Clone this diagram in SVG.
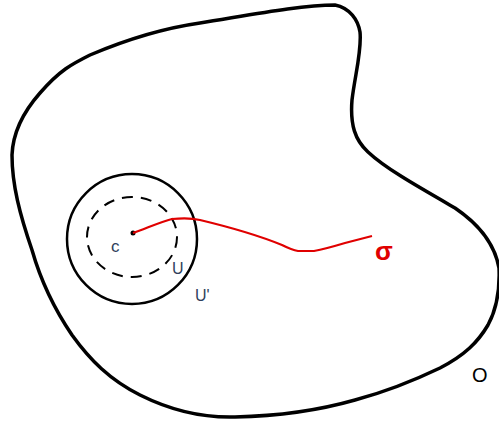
<svg xmlns="http://www.w3.org/2000/svg" width="499" height="441" viewBox="0 0 499 441">
<style>
.lbl{font-family:"Liberation Sans",Arial,sans-serif;fill:#2f3f5c}
</style>
<rect width="499" height="441" fill="#fff"/>
<g id="region-O">
<path d="M40,93 C60,70 72,64 90,55 C130,38 165,28 200,23 C250,15 300,5 335,5 C350,8 358,20 360,32 C362,50 355,75 352,100 C350,125 355,140 368,152 C385,168 415,185 455,208 C480,225 495,245 499,268 C500,290 496,310 488,325 C478,342 465,355 440,368 C415,380 385,392 355,400 C320,410 280,416 235,417 C200,418 170,410 140,395 C110,380 90,360 72,335 C55,310 42,285 32,250 C20,215 12,185 12,155 C13,130 25,110 40,93 Z" fill="none" stroke="#000" stroke-width="3.5" stroke-linejoin="round"/>
<text class="lbl" x="472" y="382" font-size="20" style="fill:#000">O</text>
</g>
<g id="region-Uprime">
<circle cx="132" cy="239" r="65" fill="none" stroke="#000" stroke-width="2.5"/>
<text class="lbl" x="195" y="301" font-size="16">U'</text>
</g>
<g id="region-U">
<ellipse cx="132" cy="237" rx="45" ry="40" fill="none" stroke="#000" stroke-width="2" stroke-dasharray="11,8"/>
<text class="lbl" x="172" y="274" font-size="16">U</text>
</g>
<g id="point-c">
<circle cx="133" cy="233" r="2.5" fill="#000"/>
<text class="lbl" x="111" y="252" font-size="17">c</text>
</g>
<g id="connectors">
<path d="M133,233 C145,229 160,222 172,219 C182,218 192,218 200,220 C225,226 260,236 282,245 C288,248 292,250 298,251 L314,251 C325,249 335,246 345,243 L372,236" fill="none" stroke="#e00000" stroke-width="2.2"/>
</g>
<g id="label-sigma">
<text x="375" y="260" font-family="'Liberation Sans',Arial,sans-serif" font-size="26" font-weight="bold" fill="#e00000">σ</text>
</g>
</svg>
